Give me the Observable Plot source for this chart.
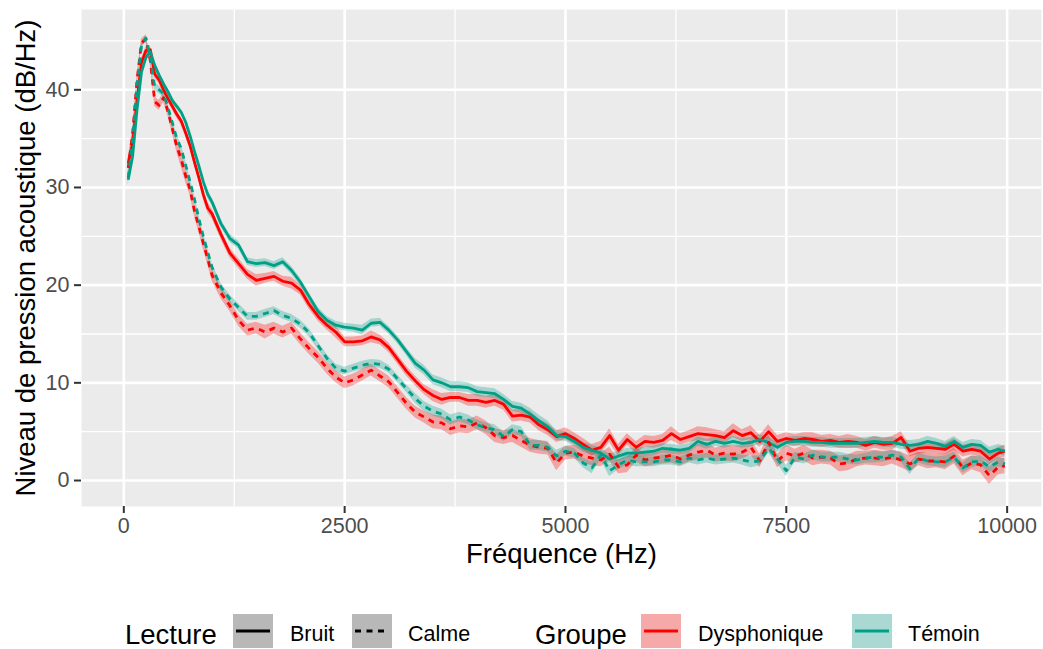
<!DOCTYPE html>
<html><head><meta charset="utf-8">
<script src="https://cdn.jsdelivr.net/npm/d3@7"></script>
<script src="https://cdn.jsdelivr.net/npm/@observablehq/plot@0.6"></script>
<style>
body{margin:0;background:#fff;font-family:"Liberation Sans",Arial,sans-serif;}
#wrap{position:relative;width:1043px;height:649px;overflow:hidden;background:#fff;}
#wrap svg.plot{position:absolute;left:0;top:0;}
.lg{position:absolute;line-height:1;white-space:nowrap;color:#000;}
.key{position:absolute;width:40px;height:34px;top:614px;background:#F2F2F2;}
</style></head><body><div id="wrap"></div>
<script>
// ---- data ----
const freq = [50,100,150,200,250,300,350,400,450,500,550,600,650,700,750,800,850,900,950,1000,
1100,1200,1300,1400,1500,1600,1700,1800,1900,2000,
2100,2200,2300,2400,2500,2600,2700,2800,2900,3000,
3100,3200,3300,3400,3500,3600,3700,3800,3900,4000,
4100,4200,4300,4400,4500,4600,4700,4800,4900,5000,
5100,5200,5300,5400,5500,5600,5700,5800,5900,6000,
6100,6200,6300,6400,6500,6600,6700,6800,6900,7000,
7100,7200,7300,7400,7500,7600,7700,7800,7900,8000,
8100,8200,8300,8400,8500,8600,8700,8800,8900,9000,
9100,9200,9300,9400,9500,9600,9700,9800,9900,9975];

const dysBruit = [32.5,34.5,39.0,42.8,44.0,44.1,41.6,41.0,40.0,39.1,38.3,37.5,36.8,35.6,34.3,32.6,31.0,29.3,27.9,27.3,
25.2,23.3,22.2,21.1,20.5,20.7,20.9,20.4,20.2,19.5,
18.0,16.8,15.9,15.2,14.2,14.2,14.3,14.7,14.4,13.6,
12.4,11.2,10.2,9.3,8.7,8.3,8.5,8.5,8.2,8.2,
8.0,8.2,7.8,6.6,6.7,6.5,5.7,5.2,4.5,4.8,
4.3,3.7,3.1,3.4,4.6,3.1,4.2,3.4,4.0,3.9,
4.1,4.8,4.2,4.5,4.8,4.7,4.6,4.4,5.1,4.6,
4.9,4.0,5.0,4.0,4.3,4.1,4.3,4.2,4.0,4.1,
3.9,4.0,3.9,3.6,3.9,3.7,3.8,4.4,3.0,3.3,
3.4,3.3,3.2,3.7,3.0,3.2,3.0,2.2,2.8,3.0];

const dysCalme = [32.0,35.5,41.0,44.8,45.2,43.0,38.8,38.4,39.2,37.8,36.0,34.2,32.9,31.2,29.8,27.6,26.0,24.3,22.7,21.0,
19.2,17.9,16.4,15.4,15.6,15.2,15.6,15.2,15.6,14.5,
13.5,12.6,11.5,10.6,10.0,10.3,10.8,11.3,10.7,10.1,
9.0,7.9,7.0,6.5,6.0,5.9,5.3,5.6,5.5,5.9,
5.4,4.6,4.4,4.6,4.1,3.6,3.4,3.3,1.8,2.8,
2.9,2.5,2.3,2.1,2.7,1.4,1.6,2.6,2.1,2.3,
2.4,2.6,2.2,2.6,2.9,3.1,2.6,2.8,2.7,2.9,
3.4,2.0,3.9,2.0,2.8,2.5,2.8,2.3,2.4,2.3,
1.7,1.8,2.2,2.3,2.3,2.2,2.4,2.1,1.7,2.2,
2.0,2.0,1.9,2.5,1.3,1.8,1.6,0.5,1.4,1.5];

const temBruit = [30.8,33.2,38.0,41.8,43.3,43.9,42.5,41.5,40.6,39.8,38.9,38.3,37.7,36.7,35.3,33.7,32.2,30.6,29.3,28.5,
26.3,24.8,24.1,22.4,22.2,22.3,22.0,22.4,21.5,20.3,
18.8,17.3,16.4,15.9,15.7,15.6,15.4,16.1,16.2,15.4,
14.4,13.2,12.0,11.3,10.3,10.0,9.6,9.6,9.5,9.1,
9.0,8.9,8.3,7.6,7.4,6.8,6.1,5.5,4.6,4.5,
4.0,3.4,3.1,2.8,2.2,2.5,2.8,2.8,2.9,3.0,
3.3,3.2,3.1,3.3,4.0,3.7,4.0,3.8,4.0,3.8,
3.9,4.2,3.9,3.4,3.9,4.0,4.0,3.9,3.9,3.8,
3.8,3.8,3.8,3.9,4.0,3.9,3.9,3.7,3.6,3.7,
4.0,3.8,3.5,4.0,3.4,3.7,3.6,2.9,3.2,3.0];

const temCalme = [31.0,35.0,40.5,44.5,45.3,43.3,40.3,40.0,39.6,38.2,36.6,35.0,34.0,32.3,30.6,28.8,26.8,25.0,23.4,21.8,
19.8,18.6,17.7,16.8,16.8,17.1,17.4,16.9,16.6,16.0,
15.1,13.8,12.5,11.5,11.2,11.5,11.8,12.0,11.9,11.4,
10.4,9.4,8.4,7.6,7.1,6.8,6.2,6.5,6.2,5.7,
5.4,5.2,4.5,5.2,5.0,3.6,3.6,3.4,2.5,3.0,
2.8,1.8,1.3,2.6,1.0,1.6,2.1,1.9,1.9,1.9,
2.1,2.1,1.9,2.3,2.1,2.3,2.1,2.2,2.3,2.1,
1.9,2.0,3.3,2.2,1.0,2.4,2.2,2.6,2.4,2.4,
2.4,2.2,2.1,2.3,2.4,2.4,2.6,2.4,1.2,2.3,
2.0,1.9,1.9,2.4,1.3,1.9,2.0,1.4,1.9,1.7];

// half-widths of the confidence ribbons
const seDysBruit = [0.6,0.4,0.4,0.4,0.4,0.4,0.4,0.4,0.4,0.4,0.4,0.4,0.4,0.4,0.4,0.4,0.4,0.5,0.5,0.5,
0.5,0.5,0.5,0.5,0.6,0.5,0.5,0.5,0.6,0.5,
0.5,0.5,0.5,0.6,0.5,0.5,0.5,0.6,0.5,0.5,
0.5,0.5,0.5,0.5,0.6,0.6,0.5,0.5,0.6,0.6,
0.6,0.6,0.6,0.6,0.6,0.6,0.6,0.6,0.6,0.6,
0.6,0.6,0.6,0.6,0.7,0.6,0.6,0.6,0.6,0.6,
0.6,0.7,0.6,0.6,0.7,0.7,0.6,0.6,0.7,0.6,
0.7,0.6,0.7,0.6,0.6,0.6,0.6,0.7,0.6,0.6,
0.6,0.7,0.6,0.6,0.6,0.6,0.7,0.6,0.6,0.6,
0.6,0.6,0.6,0.6,0.6,0.6,0.6,0.6,0.6,0.6];
const seDysCalme = [1.0,0.6,0.5,0.4,0.4,0.4,0.5,0.5,0.5,0.5,0.5,0.6,0.8,0.7,0.6,0.6,0.6,0.6,0.6,0.6,
0.6,0.6,0.6,0.6,0.6,0.7,0.6,0.6,0.6,0.6,
0.6,0.6,0.6,0.6,0.6,0.6,0.6,0.6,0.6,0.6,
0.6,0.6,0.6,0.6,0.7,0.7,0.7,0.7,0.7,0.7,
0.7,0.7,0.7,0.7,0.7,0.7,0.7,0.7,0.8,0.7,
0.7,0.7,0.8,0.7,0.7,0.7,0.8,0.7,0.7,0.7,
0.7,0.8,0.7,0.7,0.8,0.8,0.7,0.8,0.8,0.7,
0.8,0.7,0.8,0.7,0.8,0.7,0.8,0.8,0.7,0.7,
0.8,0.8,0.8,0.7,0.8,0.8,0.7,0.8,0.8,0.7,
0.8,0.7,0.8,0.8,0.8,0.7,0.8,0.9,0.8,0.8];
const seTemBruit = [0.6,0.4,0.3,0.3,0.3,0.3,0.3,0.3,0.3,0.3,0.3,0.3,0.3,0.3,0.3,0.3,0.3,0.3,0.4,0.4,
0.4,0.4,0.4,0.4,0.4,0.4,0.4,0.4,0.4,0.4,
0.4,0.4,0.4,0.4,0.4,0.4,0.5,0.4,0.4,0.4,
0.4,0.4,0.5,0.5,0.5,0.5,0.5,0.5,0.5,0.5,
0.5,0.5,0.5,0.5,0.5,0.6,0.6,0.6,0.5,0.5,
0.5,0.5,0.5,0.5,0.5,0.5,0.5,0.5,0.5,0.5,
0.5,0.5,0.5,0.5,0.5,0.5,0.5,0.5,0.5,0.5,
0.5,0.5,0.5,0.5,0.5,0.5,0.5,0.5,0.5,0.5,
0.5,0.5,0.5,0.5,0.5,0.5,0.5,0.5,0.5,0.5,
0.5,0.5,0.5,0.5,0.5,0.5,0.5,0.5,0.5,0.5];
const seTemCalme = [0.6,0.4,0.3,0.3,0.3,0.3,0.4,0.4,0.4,0.4,0.4,0.4,0.4,0.4,0.4,0.4,0.4,0.4,0.4,0.4,
0.4,0.4,0.4,0.4,0.4,0.4,0.4,0.4,0.4,0.4,
0.4,0.4,0.4,0.4,0.4,0.4,0.4,0.4,0.4,0.4,
0.4,0.4,0.5,0.5,0.5,0.5,0.5,0.5,0.5,0.5,
0.5,0.5,0.5,0.5,0.5,0.5,0.5,0.5,0.6,0.5,
0.5,0.5,0.6,0.5,0.6,0.5,0.5,0.5,0.5,0.5,
0.5,0.5,0.5,0.5,0.5,0.5,0.5,0.5,0.5,0.5,
0.6,0.5,0.5,0.5,0.6,0.5,0.5,0.5,0.5,0.5,
0.5,0.5,0.5,0.5,0.6,0.5,0.5,0.5,0.6,0.5,
0.5,0.5,0.6,0.5,0.5,0.6,0.5,0.6,0.5,0.5];

const groupes = ["Dysphonique", "Témoin"];
const couleurs = ["#FF0000", "#00A087"];
const lectures = ["Bruit", "Calme"];
const xTicks = [0, 2500, 5000, 7500, 10000];
const xMinor = [1250, 3750, 6250, 8750];
const yTicks = [0, 10, 20, 30, 40];
const yMinor = [5, 15, 25, 35, 45];
const xTitle = "Fréquence (Hz)";
const yTitle = "Niveau de pression acoustique (dB/Hz)";

const series = [
  {groupe: "Dysphonique", lecture: "Bruit", values: dysBruit, se: seDysBruit},
  {groupe: "Dysphonique", lecture: "Calme", values: dysCalme, se: seDysCalme},
  {groupe: "Témoin", lecture: "Bruit", values: temBruit, se: seTemBruit},
  {groupe: "Témoin", lecture: "Calme", values: temCalme, se: seTemCalme}
];
const rows = [];
for (const s of series) {
  freq.forEach((f, i) => rows.push({
    freq: f, val: s.values[i], lo: s.values[i] - s.se[i], hi: s.values[i] + s.se[i],
    groupe: s.groupe, lecture: s.lecture, key: s.groupe + "|" + s.lecture
  }));
}

// ---- chart ----
const H = 575;
const font = '"Liberation Sans", Arial, sans-serif';
const chart = Plot.plot({
  width: 1043, height: H,
  marginLeft: 81, marginRight: 2, marginTop: 9, marginBottom: H - 506,
  style: {fontFamily: font, fontSize: "21.5px", background: "transparent", overflow: "visible"},
  x: {domain: [-479, 10389]},
  y: {domain: [-2.66, 48.22]},
  color: {domain: groupes, range: couleurs},
  marks: [
    Plot.frame({fill: "#EBEBEB", stroke: "none"}),
    Plot.ruleY(yMinor, {y: d => d, stroke: "#FFFFFF", strokeWidth: 1.3}),
    Plot.ruleX(xMinor, {x: d => d, stroke: "#FFFFFF", strokeWidth: 1.3}),
    Plot.ruleY(yTicks, {y: d => d, stroke: "#FFFFFF", strokeWidth: 2.6}),
    Plot.ruleX(xTicks, {x: d => d, stroke: "#FFFFFF", strokeWidth: 2.6}),
    Plot.areaY(rows, {x: "freq", y1: "lo", y2: "hi", z: "key", fill: "groupe", fillOpacity: 0.3}),
    Plot.lineY(rows.filter(d => d.lecture === lectures[0]), {x: "freq", y: "val", z: "key", stroke: "groupe", strokeWidth: 2.8, strokeLinecap: "butt"}),
    Plot.lineY(rows.filter(d => d.lecture === lectures[1]), {x: "freq", y: "val", z: "key", stroke: "groupe", strokeWidth: 2.8, strokeLinecap: "butt", strokeDasharray: "6,5.5"}),
    Plot.axisX({ticks: xTicks, tickSize: 7, tickPadding: 4, stroke: "#333333", strokeWidth: 2, fill: "#4D4D4D", fontSize: 21.5, tickFormat: d => String(d), label: null}),
    Plot.axisY({ticks: yTicks, tickSize: 7, tickPadding: 5, stroke: "#333333", strokeWidth: 2, fill: "#4D4D4D", fontSize: 21.5, tickFormat: d => String(d), label: null}),
    Plot.text([xTitle], {text: d => d, frameAnchor: "bottom", dy: 48, textAnchor: "middle", lineAnchor: "middle", fontSize: 27.5, fill: "#000000"}),
    Plot.text([yTitle], {text: d => d, frameAnchor: "left", dx: -55, textAnchor: "middle", lineAnchor: "middle", rotate: -90, fontSize: 27.5, fill: "#000000"})
  ]
});
chart.classList.add("plot");
const wrap = document.getElementById("wrap");
wrap.appendChild(chart);

// ---- legend (HTML) ----
function addText(txt, left, top, size) {
  const el = document.createElement("div");
  el.className = "lg";
  el.textContent = txt;
  el.style.left = left + "px"; el.style.top = top + "px"; el.style.fontSize = size + "px";
  wrap.appendChild(el);
}
function addKey(left, fillColor, lineColor, dashed) {
  const el = document.createElement("div");
  el.className = "key";
  el.style.left = left + "px";
  el.innerHTML = `<svg width="40" height="34" style="display:block">
    <rect width="40" height="34" fill="${fillColor}" fill-opacity="0.3"/>
    <line x1="3" x2="37" y1="17" y2="17" stroke="${lineColor}" stroke-width="2.8" ${dashed ? 'stroke-dasharray="6,5.5"' : ''}/></svg>`;
  wrap.appendChild(el);
}
addText("Lecture", 125, 621, 27.5);
addKey(233, "#333333", "#000000", false);
addText(lectures[0], 290, 624, 21.5);
addKey(352, "#333333", "#000000", true);
addText(lectures[1], 408, 624, 21.5);
addText("Groupe", 535, 621, 27.5);
addKey(641, couleurs[0], couleurs[0], false);
addText(groupes[0], 698, 624, 21.5);
addKey(852, couleurs[1], couleurs[1], false);
addText(groupes[1], 908, 624, 21.5);
</script></body></html>
